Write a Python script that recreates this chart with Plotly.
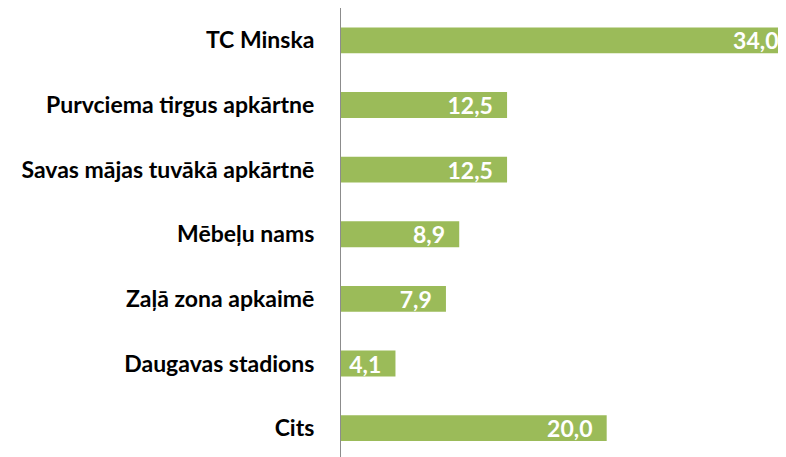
import plotly.graph_objects as go

categories = ["TC Minska", "Purvciema tirgus apkārtne", "Savas mājas tuvākā apkārtnē",
              "Mēbeļu nams", "Zaļā zona apkaimē", "Daugavas stadions", "Cits"]
values = [34.0, 12.5, 12.5, 8.9, 7.9, 4.1, 20.0]

GREEN = "#9BBB59"
FONT = "Lato"

fig = go.Figure(go.Bar(
    x=values, y=categories, orientation="h",
    marker=dict(color=GREEN, line=dict(width=0)),
    width=0.4,
    texttemplate="%{x:.1f}\u00a0\u00a0", textposition="inside", insidetextanchor="end",
    constraintext="none",
    textfont=dict(family=FONT, size=23, color="white", weight="bold"),
    cliponaxis=True,
))

fig.update_layout(
    width=786, height=457,
    margin=dict(l=333, r=0, t=0, b=0, autoexpand=False),
    paper_bgcolor="white", plot_bgcolor="white",
    separators=", ",
    showlegend=False,
    xaxis=dict(range=[0, 34.1], visible=False, showgrid=False, zeroline=False,
               automargin=False),
    yaxis=dict(categoryorder="array", categoryarray=categories,
               range=[6.57, -0.5], showgrid=False, zeroline=False,
               showline=True, linecolor="#8c8c8c", linewidth=1,
               ticks="", ticklabelstandoff=21, automargin=False,
               tickfont=dict(family=FONT, size=23, color="black", weight="bold")),
)

fig.write_html("out.html")
